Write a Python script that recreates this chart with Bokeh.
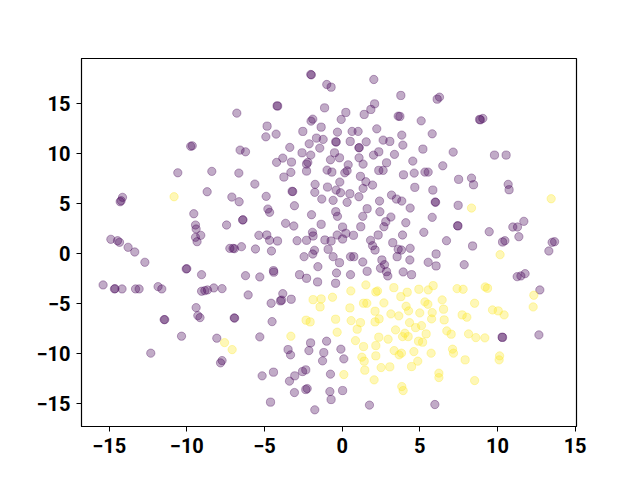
from bokeh.plotting import figure
from bokeh.models import FixedTicker
from bokeh.embed import file_html
from bokeh.resources import INLINE

purple_x = [
    -6.78, -9.75, -9.65, -6.57, -6.22, -10.58, -8.39, -6.65, -14.14, -14.29, -14.23, -8.69, -7.10, -6.63,
    -9.55, -6.41, -6.38, -7.44, -9.44, -9.40, -9.10, -9.44, -9.34, -14.89, -14.46, -14.33,
    -13.78, -13.35, -12.70, -10.04, -10.0, -9.05, -15.39, -14.66, -14.62, -14.17, -13.30, -13.07, -11.85,
    -11.61, -9.05, -8.84, -8.67, -8.26, -7.73, -7.23, -7.02, -6.93, -6.48, -6.22, -9.40, -9.29, -9.15,
    -11.46, -11.42, -6.95, -6.92, -10.34, -8.07, -12.32, -7.73, -7.83,
    -2.02, -1.98, -0.99, -0.71, 2.04, 3.78, -4.19, -4.15, -1.13, 2.09, 1.85, 1.42, 0.24, -0.06,
    3.61, 3.72, -1.89, -2.0, -4.83, -4.91, -4.25, -1.35, -2.53, -0.30, 0.64, 1.03, 2.23,
    -1.65, -1.22, -0.41, -0.38, 0.52, 1.55, 2.64, 3.07, 3.84, 3.91,
    -3.37, -2.12, -1.44, 1.08, 1.1, -0.49, -0.17, -2.58, -2.02, 2.02, 2.36, 3.37,
    -3.82, -4.22, -3.26, -2.21, -2.29, -0.75, 0.39, 1.09, 1.35, 2.86,
    -3.30, -3.75, -2.29, -0.97, -0.66, 0.17, 0.32, 2.36, 2.64, 3.95,
    -5.62, -1.74, -0.15, 1.18, 1.53, 1.35, 1.96, -0.94, -1.76, -3.22, -3.18,
    -0.39, -0.10, 0.50, -4.89, -1.31, -0.58, 1.08, 2.41, 3.18, 3.50, 3.84, 0.32, -3.07, 4.38,
    -4.78, -4.67, 1.61, -1.97, -0.41, -0.30, 2.43, 1.33, 3.14, 2.81, 2.69, -3.64, -3.11, -1.35,
    0.03, 1.20, 4.10, 3.89, -5.36, -4.85, -4.67, -4.16, -1.91, -1.87, -0.32, 0.24, 0.73,
    -2.90, -2.29, -1.11, -0.71, 0.03, 2.32, 1.83, 3.26,
    -5.58, -4.55, -1.78, -1.89, -2.45, -0.90, -0.58, -0.17, -1.56, 0.54, 0.75, 1.33, 1.96, 2.12,
    3.61, 3.82, 4.38, 3.54, 4.36, 2.56, 2.73, 2.47, 2.86, 2.94, 1.61, 0.54, -0.36, -0.42, -1.58,
    -2.29, -2.74, -4.42, -4.40, -5.30, -6.05, -3.82, -3.97, -3.90, -4.57, -3.28, 3.93,
    -4.51, -5.30, -3.48, -3.32, -2.03, -2.14, -1.00, -1.18, -1.26, -0.08, 0.11, -5.15, -4.42,
    -3.39, -3.05, -2.55, -2.34, -2.34, -2.25, -3.07, -4.61, -0.75, -0.79, -0.71, 0.03, -1.76, 1.76,
    6.12, 6.27, 8.85, 8.9, 9.06, 5.09, 5.80, 5.20, 7.15, 9.81, 10.56, 4.55, 4.64, 5.33, 5.54,
    6.48, 7.50, 8.33, 8.46, 10.69, 10.75, 4.68, 5.84, 5.99, 6.02, 7.47, 5.80, 7.43, 7.46, 5.26,
    9.47, 11.70, 10.99, 11.29, 11.38, 6.72, 10.33, 10.48, 13.52, 13.68,
    8.40, 13.31, 6.05, 5.54, 6.05, 7.86, 4.47, 11.27, 11.51, 11.78, 12.73, 12.67, 10.30, 10.33, 5.97,
]
purple_y = [
    14.07, 10.75, 10.8, 10.37, 10.2, 8.1, 8.24, 8.07, 5.64, 5.2, 5.3, 6.2, 5.67, 5.2,
    4.0, 3.37, 3.4, 2.87, 2.87, 2.47, 1.84, 1.64, 1.2, 1.44, 1.3, 1.14,
    0.64, 0.17, -0.86, -1.53, -1.5, -2.1, -3.13, -3.53, -3.5, -3.53, -3.53, -3.53, -3.3,
    -3.53, -3.76, -3.70, -3.63, -3.43, -3.5, 0.53, 0.53, 0.5, 0.7, -2.2, -5.4, -6.2, -6.4,
    -6.6, -6.6, -6.43, -6.45, -8.26, -8.46, -9.96, -10.7, -10.93,
    17.94, 17.9, 16.94, 16.67, 17.44, 15.84, 14.8, 14.78, 14.6, 15.0, 14.44, 13.94, 14.14, 13.44,
    13.77, 13.74, 13.47, 13.27, 12.77, 11.70, 11.97, 12.67, 12.24, 12.17, 12.24, 12.24, 12.5,
    11.57, 11.44, 11.2, 11.18, 11.24, 11.2, 11.37, 11.24, 11.87, 10.87,
    10.64, 11.0, 10.57, 10.6, 10.62, 10.1, 9.6, 10.1, 9.87, 9.87, 10.2, 9.94,
    9.57, 9.14, 9.17, 9.14, 8.97, 9.4, 8.9, 9.6, 8.97, 9.1,
    8.14, 7.67, 8.27, 8.37, 8.17, 8.1, 8.3, 8.34, 8.34, 7.9,
    6.97, 6.94, 7.17, 7.74, 7.2, 6.54, 6.87, 6.67, 6.14, 6.24, 6.22,
    6.37, 6.1, 6.0, 5.74, 5.47, 5.34, 5.7, 5.27, 5.87, 5.47, 5.27, 5.14, 4.8, 4.57,
    4.47, 4.14, 4.5, 3.9, 4.2, 3.74, 4.2, 3.74, 3.67, 3.2, 2.7, 3.04, 2.77, 2.94,
    2.67, 2.7, 3.1, 1.87, 1.84, 1.87, 1.34, 1.27, 2.14, 1.77, 1.87, 2.04, 1.84,
    1.3, 1.34, 1.37, 1.27, 1.47, 1.87, 1.34, 1.1,
    0.47, 0.27, 0.34, -0.03, -0.3, 0.44, -0.3, -0.9, -1.3, -0.3, -0.3, -0.83, 0.8, 0.37,
    0.44, 0.37, 0.54, -0.3, -0.63, -0.63, -1.1, -1.46, -1.8, -2.23, -1.76, -2.1, -1.93, -2.96, -2.83,
    -2.46, -2.1, -1.7, -1.85, -2.33, -4.13, -4.0, -4.73, -4.65, -4.96, -4.56, -1.83,
    -6.8, -8.33, -9.6, -10.13, -8.93, -9.7, -8.76, -9.9, -10.73, -9.56, -10.53, -12.23, -11.86,
    -12.76, -12.23, -11.8, -11.63, -13.6, -13.5, -13.9, -14.86, -12.06, -13.8, -14.6, -13.7, -15.63, -15.16,
    15.47, 15.67, 13.44, 13.4, 13.54, 13.3, 12.0, 10.47, 10.17, 9.87, 9.87, 9.27, 8.07, 8.17, 8.17,
    8.8, 7.44, 7.57, 6.9, 6.94, 6.4, 6.64, 6.37, 5.17, 5.15, 4.84, 3.64, 2.8, 2.78, 2.14,
    2.2, 3.24, 2.67, 2.67, 1.7, 1.3, 1.17, 1.3, 1.14, 1.2,
    0.77, 0.27, -0.03, -0.86, -1.23, -1.1, -2.1, -2.3, -2.23, -2.0, -3.63, -8.13, -8.36, -8.38, -15.1,
]

yellow_x = [
    -10.82, -7.57, -7.08,
    1.53, 0.56, 2.17, 2.28, 3.33, 4.19, 3.78, -0.62, -1.87, -1.35, -1.42, 1.38, 1.59, 2.69, 0.50,
    2.12, 4.12, 4.28, 3.14, 3.65, -0.42, -2.32, -2.06, 0.58, 1.18, 2.38, 2.12, 4.34, 0.97, -0.32,
    3.44, 3.89, 4.04, 4.25, -3.30, 2.36, 2.96, 0.86, 1.38, 2.17, 3.35, 3.67, 3.82, 1.27, 1.42,
    2.17, 1.46, 2.51, 3.07, 4.47, 0.11, 2.06, 3.84, 3.93,
    8.33, 13.46,
    10.17, 12.34, 12.30, 4.94, 5.54, 5.86, 7.40, 7.79, 9.21, 9.36, 6.44, 5.33, 5.52, 8.53, 5.00,
    5.80, 5.76, 6.53, 6.57, 7.73, 8.03, 9.68, 10.05, 10.43, 4.73, 5.11, 5.41, 6.74, 7.02, 4.92,
    5.18, 8.14, 8.61, 9.19, 4.62, 5.73, 7.11, 7.17, 7.92, 10.14, 10.11, 4.87, 6.23, 6.23, 8.53,
]
yellow_y = [
    5.7, -8.9, -9.6,
    -3.13, -3.73, -3.83, -3.73, -3.4, -3.86, -4.3, -4.36, -4.6, -4.53, -5.33, -4.96, -4.96, -4.93, -5.43,
    -5.76, -5.26, -5.73, -6.03, -6.23, -6.56, -6.66, -6.83, -6.7, -6.9, -6.53, -6.83, -6.9, -7.56, -7.86,
    -7.63, -8.3, -7.96, -8.3, -8.26, -8.36, -8.56, -8.7, -9.3, -9.2, -9.7, -10.13, -9.96, -10.36, -10.76,
    -10.23, -11.66, -11.4, -11.33, -11.3, -12.1, -12.63, -13.3, -13.7,
    4.57, 5.5,
    -0.1, -4.16, -5.33, -3.56, -3.63, -3.2, -3.5, -3.56, -3.33, -3.46, -4.63, -4.83, -5.06, -4.96, -5.93,
    -5.9, -6.53, -5.56, -6.63, -6.13, -6.36, -5.63, -5.73, -6.13, -7.4, -7.2, -8.03, -7.73, -8.06, -8.76,
    -8.86, -8.03, -8.4, -8.43, -9.8, -9.96, -9.56, -9.96, -10.63, -10.23, -10.63, -10.76, -11.96, -12.4, -12.7,
]

tick_values = [-15, -10, -5, 0, 5, 10, 15]
tick_labels = {t: (str(t).replace("-", "\u2212")) for t in tick_values}

p = figure(width=632, height=472, x_range=(-16.78, 15.09), y_range=(-17.3, 19.54),
           output_backend="svg", toolbar_location=None,
           min_border_left=81, min_border_right=56, min_border_top=58, min_border_bottom=46)
p.grid.visible = False
p.outline_line_color = "black"
p.outline_line_width = 1.2
p.background_fill_color = "white"
p.border_fill_color = "white"

for ax in (p.xaxis[0], p.yaxis[0]):
    ax.ticker = FixedTicker(ticks=tick_values)
    ax.major_label_overrides = tick_labels
    ax.minor_tick_line_color = None
    ax.major_tick_in = 0
    ax.major_tick_out = 5
    ax.major_tick_line_color = "black"
    ax.axis_line_color = "black"
    ax.major_label_text_font = "Roboto"
    ax.major_label_text_font_style = "bold"
    ax.major_label_text_font_size = "20px"
    ax.major_label_text_color = "black"
    ax.major_label_standoff = 6

p.scatter(purple_x, purple_y, size=8.3, marker="circle", fill_color="#440154", fill_alpha=0.33,
          line_color="#440154", line_alpha=0.33, line_width=1.0)
p.scatter(yellow_x, yellow_y, size=8.3, marker="circle", fill_color="#fde725", fill_alpha=0.33,
          line_color="#fde725", line_alpha=0.33, line_width=1.0)

open("out.html", "w").write(file_html(p, INLINE))
